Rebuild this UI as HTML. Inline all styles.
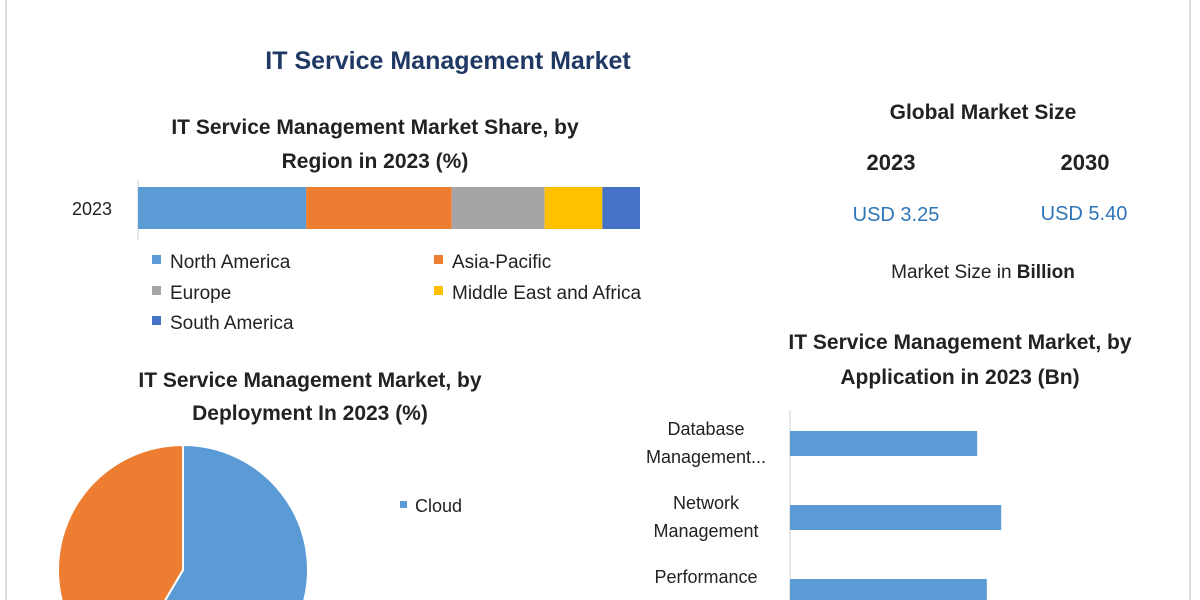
<!DOCTYPE html>
<html><head><meta charset="utf-8"><style>
html,body{margin:0;padding:0;background:#fff;width:1200px;height:600px;overflow:hidden;}
svg{display:block;font-family:"Liberation Sans",sans-serif;overflow:hidden;}
</style></head><body>
<svg id="s" width="1200" height="600" viewBox="0 0 1200 600" xmlns="http://www.w3.org/2000/svg">
<defs><clipPath id="frame"><rect x="0" y="0" width="1200" height="600"/></clipPath></defs>
<line x1="6" y1="0" x2="6" y2="600" stroke="#bbb" stroke-width="1"/>
<line x1="1190" y1="0" x2="1190" y2="600" stroke="#bbb" stroke-width="1"/>
<text x="448" y="69" text-anchor="middle" font-size="25" font-weight="bold" fill="#1f3864">IT Service Management Market</text>
<text x="375" y="134" text-anchor="middle" font-size="21" font-weight="bold" fill="#222">IT Service Management Market Share, by</text>
<text x="375" y="168" text-anchor="middle" font-size="21" font-weight="bold" fill="#222">Region in 2023 (%)</text>
<text x="92" y="215" text-anchor="middle" font-size="18" fill="#222">2023</text>
<line x1="138" y1="180" x2="138" y2="240" stroke="#d0d0d0"/>
<g id="regionBars"></g>
<g id="regionLegend"></g>
<text x="983" y="119" text-anchor="middle" font-size="21" font-weight="bold" fill="#222">Global Market Size</text>
<text x="891" y="170" text-anchor="middle" font-size="22" font-weight="bold" fill="#222">2023</text>
<text x="1085" y="170" text-anchor="middle" font-size="22" font-weight="bold" fill="#222">2030</text>
<text x="896" y="221" text-anchor="middle" font-size="20" fill="#2e75b6">USD 3.25</text>
<text x="1084" y="220" text-anchor="middle" font-size="20" fill="#2e75b6">USD 5.40</text>
<text x="983" y="278" text-anchor="middle" font-size="19" fill="#222">Market Size in <tspan font-weight="bold">Billion</tspan></text>
<text x="960" y="349" text-anchor="middle" font-size="21" font-weight="bold" fill="#222">IT Service Management Market, by</text>
<text x="960" y="384" text-anchor="middle" font-size="21" font-weight="bold" fill="#222">Application in 2023 (Bn)</text>
<line x1="790" y1="410" x2="790" y2="600" stroke="#d0d0d0"/>
<g id="appBars" clip-path="url(#frame)"></g>
<text x="310" y="387" text-anchor="middle" font-size="21" font-weight="bold" fill="#222">IT Service Management Market, by</text>
<text x="310" y="420" text-anchor="middle" font-size="21" font-weight="bold" fill="#222">Deployment In 2023 (%)</text>
<g id="pie" clip-path="url(#frame)"></g>
<rect x="400" y="501" width="7" height="7" fill="#5b9bd5"/>
<text x="415" y="512" font-size="18" fill="#222">Cloud</text>
</svg>
<script>
const NS='http://www.w3.org/2000/svg';
const regionNames=['North America','Asia-Pacific','Europe','Middle East and Africa','South America'];
const regionShares=[33.5,29,18.5,11.5,7.5];
const regionColors=['#5b9bd5','#ed7d31','#a5a5a5','#ffc000','#4472c4'];
const appNames=[['Database','Management...'],['Network','Management'],['Performance','Management']];
const appValues=[0.78,0.88,0.82];
const deployNames=['Cloud','On-Premise'];
const deployShares=[58.5,41.5];
const deployColors=['#5b9bd5','#ed7d31'];
function mk(tag,attrs,parent){const e=document.createElementNS(NS,tag);for(const k in attrs)e.setAttribute(k,attrs[k]);parent.appendChild(e);return e;}
const rx=v=>138+v*(640-138)/100;
const rg=document.getElementById('regionBars');
let acc=0;
regionShares.forEach((v,i)=>{
  const r=mk('rect',{x:rx(acc),y:187,width:rx(acc+v)-rx(acc),height:42,fill:regionColors[i]},rg);
  
  
  acc+=v;
});
const lg=document.getElementById('regionLegend');
const lpos=[[152,262],[434,262],[152,293],[434,293],[152,323]];
regionNames.forEach((n,i)=>{
  const s=mk('rect',{x:lpos[i][0],y:lpos[i][1]-7,width:9,height:9,fill:regionColors[i]},lg);
  
  
  const t=mk('text',{x:lpos[i][0]+18,y:lpos[i][1]+6,'font-size':19,fill:'#222'},lg);
  t.textContent=n;
  
  
});
const ax=v=>790+v*240;
const ag=document.getElementById('appBars');
const acy=[443,517,591];
appValues.forEach((v,i)=>{
  const y0=acy[i]-12, h=Math.min(25,600-y0);
  const b=mk('rect',{x:790,y:y0,width:ax(v)-790,height:h,fill:'#5b9bd5'},ag);
  
  
  appNames[i].forEach((ln,j)=>{
    const ty=acy[i]-8+j*28;
    const t=mk('text',{x:706,y:ty,'text-anchor':'middle','font-size':18,fill:'#222'},ag);
    t.textContent=ln;
    if(ty>600) t.setAttribute('display','none');
    
    
  });
});
const pg=document.getElementById('pie');
const cx=183,cy=570,R=125;
let a0=0;
deployShares.forEach((v,i)=>{
  const a1=a0+v/100*2*Math.PI;
  const x0=cx+R*Math.sin(a0),y0=cy-R*Math.cos(a0),x1=cx+R*Math.sin(a1),y1=cy-R*Math.cos(a1);
  const large=(a1-a0)>Math.PI?1:0;
  const p=mk('path',{d:`M${cx},${cy} L${x0},${y0} A${R},${R} 0 ${large} 1 ${x1},${y1} Z`,fill:deployColors[i],stroke:'#fff','stroke-width':2},pg);
  
  
  a0=a1;
});
</script>
</body></html>
